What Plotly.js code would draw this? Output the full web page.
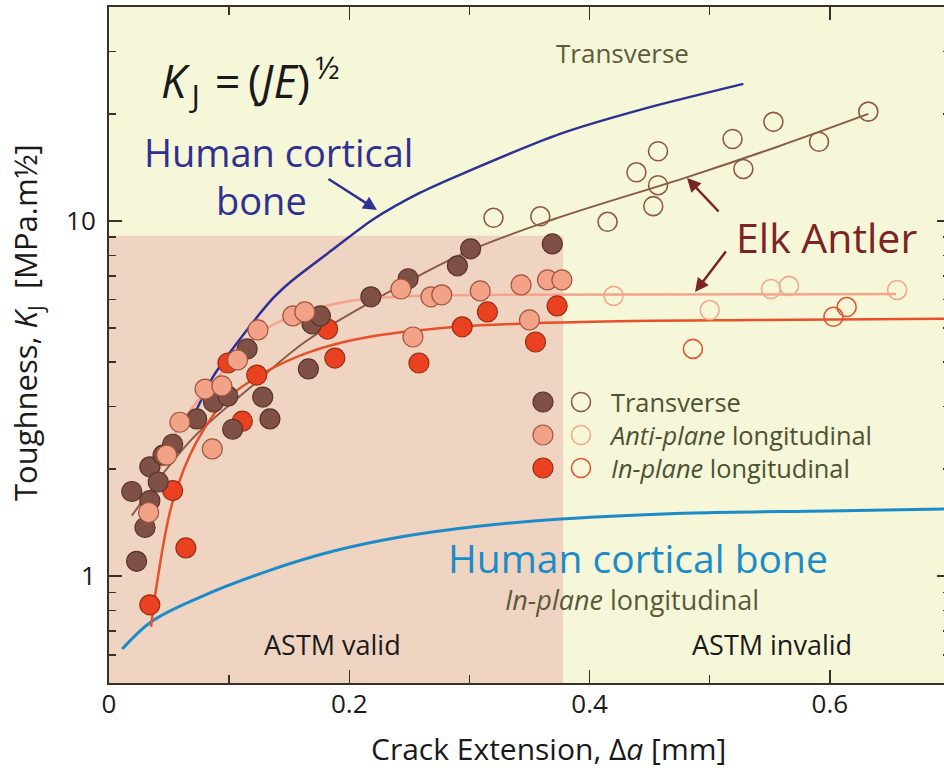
<!DOCTYPE html>
<html>
<head>
<meta charset="utf-8">
<script src="https://cdn.plot.ly/plotly-3.0.1.min.js"></script>
<style>html,body{margin:0;padding:0;overflow:hidden;background:#fff}</style>
</head>
<body>
<div id="chart" style="width:950px;height:768px"></div>
<script>
// ---------- data ----------
// Elk antler, transverse (filled = ASTM valid, open = beyond)
const transFilledX = [0.019,0.023,0.030,0.034,0.034,0.041,0.045,0.053,0.073,0.087,0.099,0.103,0.115,0.128,0.134,0.166,0.169,0.176,0.218,0.249,0.290,0.301,0.369];
const transFilledY = [1.73,1.10,1.37,1.63,2.03,1.84,2.19,2.35,2.77,3.09,3.21,2.59,4.36,3.19,2.77,3.83,5.13,5.40,6.11,6.87,7.47,8.34,8.61];
const transOpenX = [0.320,0.359,0.415,0.439,0.457,0.457,0.453,0.519,0.528,0.553,0.591,0.632];
const transOpenY = [10.2,10.3,9.94,13.7,15.7,12.6,11.0,17.0,14.0,19.0,16.7,20.3];
// Elk antler, anti-plane longitudinal
const antiFilledX = [0.033,0.048,0.059,0.080,0.086,0.094,0.107,0.124,0.153,0.163,0.243,0.253,0.268,0.277,0.309,0.343,0.350,0.365,0.377];
const antiFilledY = [1.51,2.19,2.71,3.36,2.28,3.43,4.06,4.93,5.40,5.54,6.43,4.71,6.11,6.19,6.35,6.60,5.26,6.82,6.82];
const antiOpenX = [0.420,0.500,0.551,0.566,0.656];
const antiOpenY = [6.15,5.61,6.43,6.56,6.39];
// Elk antler, in-plane longitudinal
const inFilledX = [0.034,0.053,0.064,0.099,0.111,0.123,0.182,0.188,0.258,0.294,0.315,0.355,0.373];
const inFilledY = [0.83,1.74,1.20,3.98,2.73,3.68,4.96,4.11,3.98,5.03,5.54,4.56,5.76];
const inOpenX = [0.486,0.603,0.614];
const inOpenY = [4.36,5.37,5.72];
// Fitted R-curves
const transFitX = [0.019,0.069,0.116,0.163,0.218,0.298,0.370,0.482,0.557,0.632];
const transFitY = [1.48,2.43,3.36,4.56,5.91,8.18,10.1,13.3,16.2,20.0];
const antiFitX = [0.035,0.061,0.093,0.128,0.163,0.201,0.259,0.330,0.450,0.655];
const antiFitY = [1.75,2.71,3.71,4.90,5.54,5.95,6.15,6.19,6.20,6.22];
const inFitX = [0.035,0.040,0.053,0.073,0.098,0.130,0.165,0.207,0.290,0.393,0.534,0.700];
const inFitY = [0.72,0.96,1.62,2.39,3.15,3.75,4.25,4.65,5.03,5.19,5.26,5.30];
// Human cortical bone curves
const humanTX = [0.070,0.087,0.108,0.136,0.151,0.187,0.220,0.259,0.2925,0.376,0.448,0.528];
const humanTY = [2.80,3.66,4.60,6.03,6.73,8.34,10.1,12.0,13.5,17.6,20.8,24.3];
const humanLX = [0.011,0.036,0.076,0.132,0.187,0.2425,0.309,0.376,0.487,0.598,0.700];
const humanLY = [0.623,0.747,0.873,1.033,1.176,1.288,1.383,1.447,1.505,1.525,1.545];
// Axes
const xTickVals = [0, 0.2, 0.4, 0.6];
const xTickText = ['0', '0.2', '0.4', '0.6'];
const xMinorVals = [0.1, 0.3, 0.5];
const yTickVals = [1, 10];
const yTickText = ['1', '10'];
const yMinorVals = [0.6,0.7,0.8,0.9,2,3,4,5,6,7,8,9,20,30];
const validLimitX = 0.378;
const validLimitY = 9.08;
// Key labels
const keyLabels = ['Transverse', '<i>Anti-plane</i> longitudinal', '<i>In-plane</i> longitudinal'];

// ---------- layout helpers (pixel -> paper) ----------
const L = 109, T = 7, W = 841, H = 676;
const fx = p => (p - L) / W;
const fy = p => (T + H - p) / H;
const FONT = 'Open Sans, Noto Sans, sans-serif';
const AX = '#3a302a';

const fitLine = (x, y, color, w, sm) => ({x, y, type:'scatter', mode:'lines', line:{color, width:w, shape:'spline', smoothing:sm}, hoverinfo:'skip', showlegend:false});
const filled = (x, y, fill, edge) => ({x, y, type:'scatter', mode:'markers', marker:{size:20, color:fill, line:{color:edge, width:1.2}}, showlegend:false});
const open = (x, y, color) => ({x, y, type:'scatter', mode:'markers', marker:{size:19, symbol:'circle-open', color, line:{width:1.6}}, showlegend:false});

const C = {
  transF:'#7f5045', transE:'#5a3328', transO:'#8b5a48', transFit:'#8b5a48',
  antiF:'#f2a286', antiE:'#a0553f', antiO:'#f0a88e', antiFit:'#f4a48a',
  inF:'#ea4220', inE:'#9a2d15', inO:'#e2552e', inFit:'#e8502a',
  navy:'#2e3192', blue:'#1c8cc9'
};

const data = [
  fitLine(humanLX, humanLY, C.blue, 3, 1),
  fitLine(humanTX, humanTY, C.navy, 2.5, 0.7),
  fitLine(transFitX, transFitY, C.transFit, 2, 1),
  fitLine(antiFitX, antiFitY, C.antiFit, 2.5, 1),
  fitLine(inFitX, inFitY, C.inFit, 2.5, 1),
  filled(inFilledX, inFilledY, C.inF, C.inE),
  filled(transFilledX, transFilledY, C.transF, C.transE),
  filled(antiFilledX, antiFilledY, C.antiF, C.antiE),
  open(transOpenX, transOpenY, C.transO),
  open(antiOpenX, antiOpenY, C.antiO),
  open(inOpenX, inOpenY, C.inO),
];

// legend keys on an overlay axis in plot-fraction units
const keyRowsY = [402, 435, 468];
const keyFilledX = 543, keyOpenX = 581;
const keyFill = [C.transF, C.antiF, C.inF], keyEdge = [C.transE, C.antiE, C.inE], keyOpen = [C.transO, C.antiO, C.inO];
data.push({x: keyRowsY.map(() => fx(keyFilledX)), y: keyRowsY.map(fy), xaxis:'x2', yaxis:'y2', type:'scatter', mode:'markers',
  marker:{size:20, color:keyFill, line:{color:keyEdge, width:1.2}}, showlegend:false, hoverinfo:'skip'});
data.push({x: keyRowsY.map(() => fx(keyOpenX)), y: keyRowsY.map(fy), xaxis:'x2', yaxis:'y2', type:'scatter', mode:'markers',
  marker:{size:19, symbol:'circle-open', color:keyOpen, line:{width:1.6}}, showlegend:false, hoverinfo:'skip'});

const txt = (text, x, y, size, color, extra) => Object.assign({text, x:fx(x), y:fy(y), xref:'paper', yref:'paper', showarrow:false,
  xanchor:'center', yanchor:'middle', font:{family:FONT, size, color}}, extra || {});
const arrow = (tipX, tipY, tailX, tailY, color) => ({text:'', x:fx(tipX), y:fy(tipY), xref:'paper', yref:'paper', showarrow:true,
  ax:tailX - tipX, ay:tailY - tipY, arrowcolor:color, arrowwidth:2.5, arrowhead:2, arrowsize:1.1});

const legendColor = '#4d5233';
const annotations = [
  txt('<i>K</i><sub>\u2009J</sub>\u2009\u2009=\u2009(<i>JE</i>)<sup>\u2009½</sup>', 250, 80, 45, '#1a1a1a'),
  txt('Transverse', 622, 53, 26, '#5c5c3c'),
  txt('Human cortical', 278, 152, 38, C.navy),
  txt('bone', 261, 200, 38, C.navy),
  txt('Elk Antler', 826, 237, 41, '#7b2425'),
  txt(keyLabels.join('<br>'), 607, 435, 25.4, legendColor, {xanchor:'left', align:'left'}),
  txt('Human cortical bone', 638, 557, 39, C.blue),
  txt('<i>In-plane</i> longitudinal', 632, 599, 27, '#5a5a3a'),
  txt('ASTM valid', 332, 644, 27, '#1a1a1a'),
  txt('ASTM invalid', 772, 644, 27, '#1a1a1a'),
  txt('Toughness, <i>K</i><sub>J</sub>  [MPa.m½]', 27, 323, 31, '#1a1a1a', {textangle:-90}),
  txt('Crack Extension, Δ<i>a</i> [mm]', 548, 748, 30, '#1a1a1a'),
  arrow(377, 210, 327, 178, C.navy),
  arrow(687, 178, 720, 213, '#7b2425'),
  arrow(695, 292, 727, 250, '#7b2425'),
];

const axisCommon = {ticks:'inside', ticklen:13, tickwidth:1.5, tickcolor:AX, showline:true, linewidth:2, linecolor:AX,
  mirror:'ticks', showgrid:false, zeroline:false, tickfont:{family:FONT, size:26, color:'#1a1a1a'}};

const layout = {
  width:950, height:768,
  margin:{l:L, r:0, t:T, b:768 - T - H},
  paper_bgcolor:'#ffffff', plot_bgcolor:'#f6f6d8',
  showlegend:false,
  xaxis:Object.assign({}, axisCommon, {range:[0, 0.7], tickmode:'array', tickvals:xTickVals, ticktext:xTickText, ticklabelstandoff:-3,
    minor:{tickmode:'array', tickvals:xMinorVals, ticks:'inside', ticklen:8, tickwidth:1.5, tickcolor:AX, showgrid:false}}),
  yaxis:Object.assign({}, axisCommon, {type:'log', range:[Math.log10(0.5), Math.log10(40)], tickmode:'array', tickvals:yTickVals, ticktext:yTickText, ticklabelstandoff:6,
    minor:{tickmode:'array', tickvals:yMinorVals, ticks:'inside', ticklen:7, tickwidth:1.5, tickcolor:AX, showgrid:false}}),
  xaxis2:{overlaying:'x', anchor:'y2', range:[0,1], visible:false, fixedrange:true},
  yaxis2:{overlaying:'y', anchor:'x2', range:[0,1], visible:false, fixedrange:true},
  shapes:[{type:'rect', xref:'x', yref:'y', x0:0, x1:validLimitX, y0:0.5, y1:validLimitY, fillcolor:'#f0d4c2', line:{width:0}, layer:'below'}],
  annotations
};

Plotly.newPlot('chart', data, layout, {displayModeBar:false, staticPlot:true});
</script>
</body>
</html>
